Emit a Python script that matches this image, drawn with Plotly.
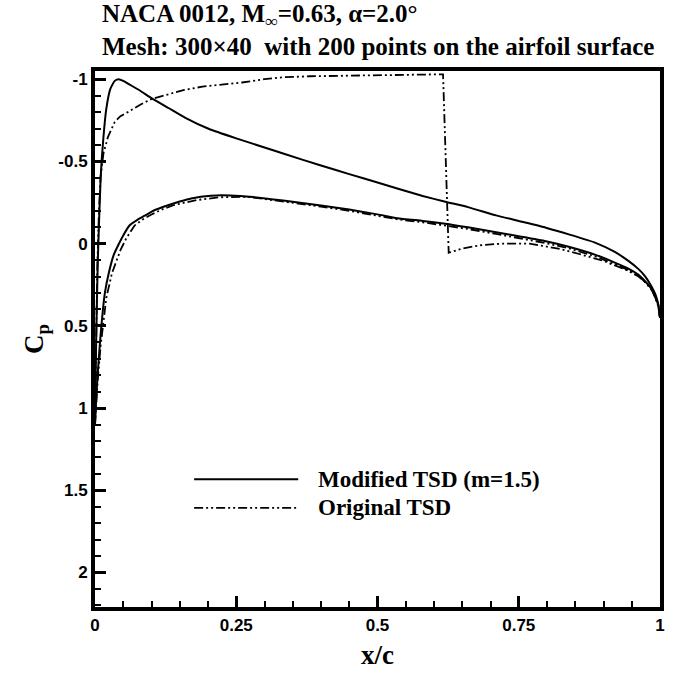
import plotly.graph_objects as go

# ---- data ----
mod_up_x = [0, 0.002, 0.005, 0.01, 0.015, 0.02, 0.027, 0.035, 0.042, 0.05, 0.06, 0.08, 0.1, 0.13, 0.16, 0.2, 0.25, 0.3, 0.333, 0.4, 0.45, 0.5, 0.535, 0.58, 0.62, 0.66, 0.71, 0.75, 0.798, 0.84, 0.886, 0.92, 0.944, 0.962, 0.974, 0.985, 0.992, 0.997, 1.0]
mod_up_cp = [1.1, 0.6, 0.1, -0.4, -0.65, -0.82, -0.94, -0.99, -1.0, -0.99, -0.97, -0.93, -0.885, -0.825, -0.765, -0.7, -0.64, -0.585, -0.548, -0.475, -0.423, -0.372, -0.335, -0.29, -0.255, -0.222, -0.172, -0.138, -0.097, -0.055, -0.005, 0.05, 0.105, 0.155, 0.2, 0.26, 0.31, 0.37, 0.45]

mod_lo_x = [0, 0.002, 0.005, 0.01, 0.0175, 0.025, 0.033, 0.041, 0.05, 0.061, 0.075, 0.088, 0.105, 0.128, 0.15, 0.17, 0.205, 0.24, 0.28, 0.333, 0.4, 0.45, 0.5, 0.535, 0.58, 0.62, 0.66, 0.71, 0.75, 0.798, 0.84, 0.886, 0.92, 0.944, 0.962, 0.974, 0.985, 0.992, 0.997, 1.0]
mod_lo_cp = [1.1, 0.95, 0.78, 0.55, 0.30, 0.17, 0.07, 0.01, -0.05, -0.11, -0.145, -0.17, -0.203, -0.232, -0.256, -0.275, -0.292, -0.293, -0.283, -0.262, -0.232, -0.207, -0.178, -0.155, -0.138, -0.121, -0.099, -0.069, -0.045, -0.015, 0.02, 0.068, 0.115, 0.152, 0.19, 0.23, 0.275, 0.325, 0.375, 0.45]

org_up_x = [0, 0.002, 0.004, 0.007, 0.01, 0.015, 0.023, 0.035, 0.045, 0.058, 0.08, 0.1, 0.13, 0.158, 0.19, 0.216, 0.26, 0.3, 0.333, 0.38, 0.45, 0.5, 0.55, 0.6, 0.616, 0.626, 0.65, 0.681, 0.72, 0.769, 0.82, 0.857, 0.9, 0.944, 0.962, 0.974, 0.985, 0.992, 0.997, 1.0]
org_up_cp = [1.1, 0.6, 0.15, -0.2, -0.41, -0.55, -0.65, -0.74, -0.775, -0.8, -0.845, -0.88, -0.91, -0.935, -0.955, -0.965, -0.98, -1.0, -1.012, -1.018, -1.022, -1.025, -1.028, -1.03, -1.03, 0.055, 0.03, 0.01, 0.0, 0.0, 0.03, 0.063, 0.105, 0.165, 0.2, 0.235, 0.28, 0.33, 0.38, 0.45]

org_lo_x = [0, 0.002, 0.005, 0.01, 0.02, 0.03, 0.045, 0.055, 0.07, 0.085, 0.1, 0.12, 0.14, 0.18, 0.22, 0.27, 0.333, 0.4, 0.45, 0.5, 0.535, 0.58, 0.62, 0.66, 0.71, 0.75, 0.798, 0.84, 0.886, 0.92, 0.944, 0.962, 0.974, 0.985, 0.992, 0.997, 1.0]
org_lo_cp = [1.1, 0.97, 0.82, 0.62, 0.33, 0.18, 0.04, -0.03, -0.11, -0.148, -0.177, -0.21, -0.235, -0.265, -0.282, -0.285, -0.258, -0.225, -0.2, -0.17, -0.148, -0.13, -0.111, -0.089, -0.059, -0.034, -0.003, 0.03, 0.078, 0.125, 0.16, 0.195, 0.235, 0.28, 0.33, 0.38, 0.45]

x_ticks = [0, 0.25, 0.5, 0.75, 1]
x_tick_text = ["0", "0.25", "0.5", "0.75", "1"]
y_ticks = [-1, -0.5, 0, 0.5, 1, 1.5, 2]
y_tick_text = ["-1", "-0.5", "0", "0.5", "1", "1.5", "2"]

series_names = ["Modified TSD (m=1.5)", "Original TSD"]
title_lines = ["NACA 0012, M<sub>∞</sub>=0.63, α=2.0°",
               "Mesh: 300×40  with 200 points on the airfoil surface"]

DASHDOT = "9px,3px,2px,3px,2px,3px"
SERIF = "Liberation Serif"
SANS = "Liberation Sans"

fig = go.Figure()
for xs, ys in [(mod_up_x, mod_up_cp), (mod_lo_x, mod_lo_cp)]:
    fig.add_trace(go.Scatter(x=xs, y=ys, mode="lines", showlegend=False,
                             line=dict(color="black", width=2, shape="spline", smoothing=0.5)))
for xs, ys in [(org_up_x, org_up_cp), (org_lo_x, org_lo_cp)]:
    fig.add_trace(go.Scatter(x=xs, y=ys, mode="lines", showlegend=False,
                             line=dict(color="black", width=1.8, dash=DASHDOT)))

W, H = 677, 678
L, R, T, B = 95, 12, 71, 66
pw, ph = W - L - R, H - T - B

def px(xp):
    return (xp - L) / pw

def py(yp):
    return 1 - (yp - T) / ph

# custom legend
shapes = [
    dict(type="line", xref="paper", yref="paper", x0=px(195), x1=px(300), y0=py(483), y1=py(483),
         line=dict(color="black", width=2)),
    dict(type="line", xref="paper", yref="paper", x0=px(195), x1=px(300), y0=py(512), y1=py(512),
         line=dict(color="black", width=1.8, dash=DASHDOT)),
]
annotations = [
    dict(xref="paper", yref="paper", x=px(318), y=py(483), xanchor="left", yanchor="middle",
         text="<b>" + series_names[0] + "</b>", showarrow=False, font=dict(family=SERIF, size=23, color="black")),
    dict(xref="paper", yref="paper", x=px(318), y=py(512), xanchor="left", yanchor="middle",
         text="<b>" + series_names[1] + "</b>", showarrow=False, font=dict(family=SERIF, size=23, color="black")),
    dict(xref="paper", yref="paper", x=px(100), y=py(30), xanchor="left", yanchor="middle", align="left",
         text="<b>" + title_lines[0] + "<br>" + title_lines[1] + "</b>",
         showarrow=False, font=dict(family=SERIF, size=25, color="black")),
]

fig.update_layout(
    width=W, height=H,
    margin=dict(l=L, r=R, t=T, b=B),
    paper_bgcolor="white", plot_bgcolor="white",
    shapes=shapes, annotations=annotations,
    showlegend=False,
)
fig.update_xaxes(
    range=[0, 1], tickvals=x_ticks, ticktext=x_tick_text,
    showgrid=False, zeroline=False,
    showline=True, linecolor="black", linewidth=4, mirror=True,
    ticks="inside", ticklen=11, tickwidth=3, tickcolor="black",
    minor=dict(dtick=0.05, ticks="inside", ticklen=6, tickwidth=1.5, tickcolor="black", showgrid=False),
    tickfont=dict(family=SANS, size=17, color="black", weight="bold"),
    title=dict(text="<b>x/c</b>", font=dict(family=SERIF, size=27, color="black"), standoff=12),
)
fig.update_yaxes(
    range=[2.21, -1.05], tickvals=y_ticks, ticktext=y_tick_text,
    showgrid=False, zeroline=False,
    showline=True, linecolor="black", linewidth=4, mirror=True,
    ticks="inside", ticklen=11, tickwidth=3, tickcolor="black",
    minor=dict(dtick=0.1, ticks="inside", ticklen=6, tickwidth=1.5, tickcolor="black", showgrid=False),
    tickfont=dict(family=SANS, size=17, color="black", weight="bold"),
    title=dict(text="<b>C<sub>p</sub></b>", font=dict(family=SERIF, size=27, color="black"), standoff=8),
)

fig.write_html("out.html")
